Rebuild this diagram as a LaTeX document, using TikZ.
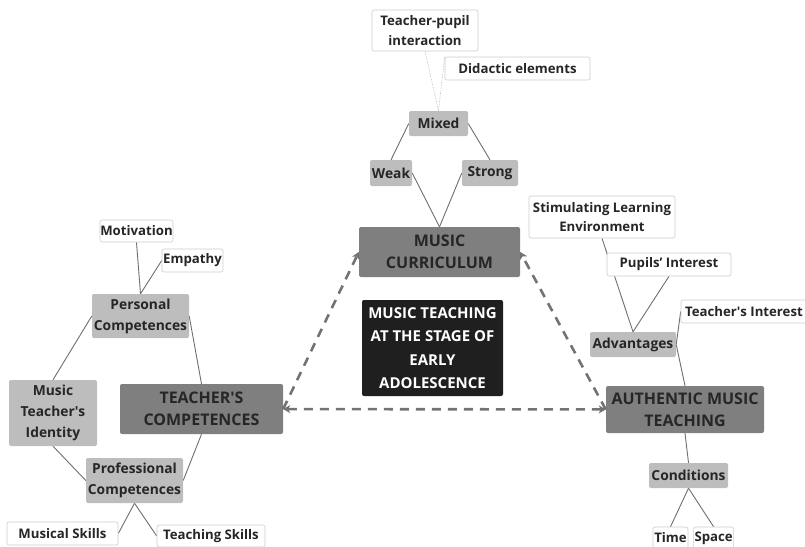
\documentclass[tikz,border=0pt]{standalone}
\usepackage{fontspec}
\setmainfont{Open Sans}
\usepackage{tikz}
\usetikzlibrary{positioning,arrows.meta}
\definecolor{maingray}{HTML}{7F7F7F}
\definecolor{subgray}{HTML}{BDBDBD}
\definecolor{inkgray}{HTML}{262626}
\definecolor{linegray}{HTML}{6E6E6E}
\pgfdeclarelayer{bg}
\pgfsetlayers{bg,main}

\begin{document}
\begin{tikzpicture}[x=1pt,y=-1pt,
  box/.style={rounded corners=2pt, inner sep=0pt, align=center, text=inkgray,
    font=\fontsize{13.2}{19.5}\selectfont\bfseries},
  leaf/.style={box, fill=white, draw=black!20, line width=0.6pt},
  sub/.style={box, fill=subgray, font=\fontsize{13.8}{21}\selectfont\bfseries},
  topic/.style={box, fill=maingray, font=\fontsize{16}{22}\selectfont\bfseries},
  core/.style={box, fill=black!88, text=white, font=\fontsize{15}{23.5}\selectfont\bfseries},
  tie/.style={draw=linegray, line width=0.9pt},
  faint/.style={draw=black!30, line width=0.6pt, densely dotted},
  link/.style={draw=black!55, line width=2.6pt, dash pattern=on 9pt off 7pt,
    arrows={-Stealth[length=7pt,width=8pt,inset=2pt]}}]
\useasboundingbox (0,0) rectangle (805,546);

% centre
\node[core, minimum width=141pt, minimum height=96pt] (stage) at (432.5,348)
  {MUSIC TEACHING\\AT THE STAGE OF\\EARLY\\ADOLESCENCE};
\node[topic, minimum width=161pt, minimum height=50pt] (curr) at (439.5,252) {MUSIC\\CURRICULUM};
\node[topic, minimum width=163pt, minimum height=50pt] (comp) at (201.5,409) {TEACHER\textquotesingle S\\COMPETENCES};
\node[topic, minimum width=158pt, minimum height=47pt] (auth) at (685,409.5) {AUTHENTIC MUSIC\\TEACHING};

% curriculum
\node[sub, minimum width=59pt, minimum height=25pt] (mixed) at (438.5,123.5) {Mixed};
\node[sub, minimum width=42pt, minimum height=26pt] (weak) at (391,173) {Weak};
\node[sub, minimum width=56pt, minimum height=26pt] (strong) at (490,173) {Strong};
\node[leaf, minimum width=106pt, minimum height=41pt] (inter) at (425,30.5) {Teacher-pupil\\interaction};
\node[leaf, minimum width=145pt, minimum height=23pt] (didac) at (517.5,68.5) {Didactic elements};

% competences
\node[sub, minimum width=97pt, minimum height=44pt] (pers) at (140.5,316) {Personal\\Competences};
\node[sub, minimum width=97pt, minimum height=45pt] (prof) at (134.5,480.5) {Professional\\Competences};
\node[sub, minimum width=88pt, minimum height=66pt] (ident) at (53,413) {Music\\Teacher\textquotesingle s\\Identity};
\node[leaf, minimum width=73pt, minimum height=22pt] (motiv) at (136.5,231) {Motivation};
\node[leaf, minimum width=61pt, minimum height=23pt] (empat) at (192.5,260.5) {Empathy};
\node[leaf, minimum width=111pt, minimum height=23pt] (music) at (62.5,533.5) {Musical Skills};
\node[leaf, minimum width=108pt, minimum height=22pt] (teach) at (211,536) {Teaching Skills};

% authentic teaching
\node[sub, minimum width=86pt, minimum height=25pt] (adv) at (633,344.5) {Advantages};
\node[sub, minimum width=79pt, minimum height=25pt] (cond) at (688.5,475.5) {Conditions};
\node[leaf, minimum width=146pt, minimum height=42pt] (stim) at (602,217) {Stimulating Learning\\Environment};
\node[leaf, minimum width=124pt, minimum height=23pt] (pupil) at (669,264.5) {Pupils' Interest};
\node[leaf, minimum width=126pt, minimum height=23pt] (tint) at (744,311.5) {Teacher\textquotesingle s Interest};
\node[leaf, minimum width=35pt, minimum height=22pt] (time) at (670.5,538) {Time};
\node[leaf, minimum width=40pt, minimum height=22pt, right=5pt of time] (space) {Space};

\begin{pgfonlayer}{bg}
\draw[faint] (inter.south) -- (mixed.north);
\draw[faint] (didac.north west) -- (mixed.north);
\draw[tie] (mixed.west) -- (weak.north);
\draw[tie] (mixed.east) -- (strong.north);
\draw[tie] (weak.east) -- (curr.north);
\draw[tie] (strong.west) -- (curr.north);

\draw[tie] (motiv.south) -- (pers.north);
\draw[tie] (empat.west) -- (pers.north);
\draw[tie] (pers.west) -- (ident.north);
\draw[tie] (pers.east) -- (comp.north);
\draw[tie] (ident.south) -- (prof.west);
\draw[tie] (comp.south) -- (prof.east);
\draw[tie] (prof.south) -- (music.east);
\draw[tie] (prof.south) -- (teach.west);

\draw[tie] (stim.south) -- (adv.north);
\draw[tie] (pupil.south) -- (adv.north);
\draw[tie] (tint.west) -- (adv.east);
\draw[tie] (adv.east) -- (auth.north);
\draw[tie] (auth.south) -- (cond.north);
\draw[tie] (cond.south) -- (time.north);
\draw[tie] (cond.south) -- (space.north);
\end{pgfonlayer}

\draw[link] (comp.east) -- (curr.west);
\draw[link] (auth.west) -- (curr.east);
\draw[link, arrows={Stealth[length=7pt,width=8pt,inset=2pt]-Stealth[length=7pt,width=8pt,inset=2pt]}] (comp) -- (auth);
\end{tikzpicture}
\end{document}
